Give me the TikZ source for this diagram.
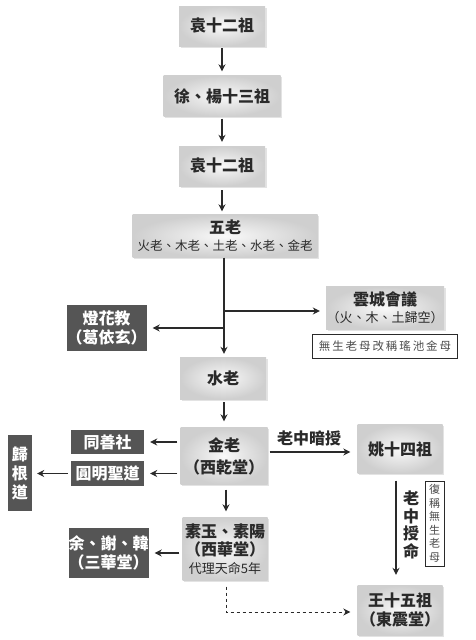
\documentclass[tikz,border=0pt]{standalone}
\usepackage{fontspec}
\setmainfont{Noto Sans CJK TC}
\usetikzlibrary{arrows.meta,shadows}
\definecolor{ink}{HTML}{2A2A2A}
\definecolor{darkbox}{HTML}{555555}
\tikzset{
  gbox/.style={inner color=gray!5, outer color=gray!38, draw=none, text=ink, align=center, inner sep=0pt,
     drop shadow={opacity=0.22, shadow xshift=1.5pt, shadow yshift=-1.5pt}},
  dbox/.style={fill=darkbox, draw=none, text=white, align=center, inner sep=0pt},
  nbox/.style={draw=ink, line width=0.8pt, fill=white, text=gray!60!black, align=center, inner sep=0pt},
  arr/.style={draw=ink, line width=1.2pt, -{Stealth[length=7pt,width=7pt]}},
  big/.style={font=\fontsize{16}{19}\selectfont\bfseries},
  lbl/.style={text=ink, font=\fontsize{16}{18}\selectfont\bfseries, inner sep=0pt}
}
\begin{document}
\begin{tikzpicture}[x=1pt,y=-1pt]
\useasboundingbox (0,0) rectangle (476,640);
% main column
\node[gbox, big, minimum width=86, minimum height=40] (a) at (222,26) {袁十二祖};
\node[gbox, big, minimum width=117, minimum height=41] (b) at (222,96) {徐、楊十三祖};
\node[gbox, big, minimum width=86, minimum height=40] (c) at (222,166) {袁十二祖};
\node[gbox, minimum width=185, minimum height=43, font=\fontsize{12.5}{16}\selectfont] (wulao) at (225,236)
   {{\fontsize{16}{18}\selectfont\bfseries 五老}\\[1pt]火老、木老、土老、水老、金老};
\node[gbox, big, minimum width=86, minimum height=42] (shui) at (223,378) {水老};
\node[gbox, big, minimum width=87, minimum height=57] (jin) at (224,456) {金老\\[3pt]（西乾堂）};
\node[gbox, minimum width=85, minimum height=63, font=\fontsize{13}{18}\selectfont] (suyu) at (225,549)
   {{\fontsize{16}{18}\selectfont\bfseries 素玉、素陽}\\{\fontsize{16}{18}\selectfont\bfseries （西華堂）}\\代理天命5年};
% right side
\node[gbox, minimum width=118, minimum height=43, font=\fontsize{13}{17}\selectfont] (yun) at (385,308)
   {{\fontsize{16}{18}\selectfont\bfseries 雲城會議}\\（火、木、土歸空）};
\node[nbox, minimum width=145, minimum height=24, font=\fontsize{11.5}{13}\selectfont] (note1) at (385,346) {無\,生\,老\,母\,改\,稱\,瑤\,池\,金\,母};
\node[gbox, big, minimum width=85, minimum height=49] (yao) at (400,449) {姚十四祖};
\node[gbox, big, minimum width=85, minimum height=50] (wang) at (400,610) {王十五祖\\（東震堂）};
\node[nbox, minimum width=19, minimum height=85, font=\fontsize{11}{13.5}\selectfont] (note2) at (434.5,523.5) {復\\稱\\無\\生\\老\\母};
% left side
\node[dbox, big, minimum width=73, minimum height=46] (deng) at (106.5,328) {燈花教\\（葛依玄）};
\node[dbox, big, minimum width=73, minimum height=24] (tong) at (107.5,442) {同善社};
\node[dbox, big, minimum width=73, minimum height=25] (yuan) at (107.5,473.5) {圓明聖道};
\node[dbox, big, minimum width=24, minimum height=76] (gui) at (20,473) {歸\\根\\道};
\node[dbox, big, minimum width=73, minimum height=50] (yu) at (108.5,553) {余、謝、韓\\（三華堂）};
% connectors main column
\draw[arr, shorten <=2pt, shorten >=4pt] (a) -- (b);
\draw[arr, shorten <=2pt, shorten >=4pt] (b) -- (c);
\draw[arr, shorten <=4pt, shorten >=3pt] (c) -- (c |- wulao.north);
\coordinate (jR) at (224,311);
\coordinate (jL) at (224,328);
\draw[arr, shorten >=3pt] (wulao.south -| jR) -- (shui.north -| jR);
\draw[arr, shorten >=6pt] (jR) -- (jR -| yun.west);
\draw[arr, shorten >=6pt] (jL) -- (jL -| deng.east);
\draw[arr, shorten <=3pt, shorten >=6pt] (shui.south -| jR) -- (jin.north -| jR);
\draw[arr, shorten <=5pt, shorten >=6pt] (jin.south -| 226,0) -- (suyu.north -| 226,0);
% left connectors
\draw[arr, shorten <=3pt, shorten >=6pt] (jin.west |- tong) -- (tong.east);
\draw[arr, shorten <=3pt, shorten >=6pt] (jin.west |- yuan) -- (yuan.east);
\draw[arr, shorten <=3pt, shorten >=5pt] (yuan.west) -- (yuan.west -| gui.east);
\draw[arr, shorten <=3pt, shorten >=6pt] (suyu.west |- yu) -- (yu.east);
% right connectors
\coordinate (jy) at (0,452);
\draw[arr, shorten <=2pt, shorten >=7pt] (jin.east |- jy) -- (yao.west |- jy);
\node[lbl] (l1) at (309,438) {老中暗授};
\draw[arr, shorten <=7pt, shorten >=10pt] ([xshift=-4pt]yao.south) -- ([xshift=-4pt]wang.north);
\node[lbl, align=center, font=\fontsize{16}{17.5}\selectfont\bfseries] (l2) at (411,525) {老\\中\\授\\命};
\draw[arr, dashed, line width=1pt, shorten <=6pt, shorten >=7pt] (suyu.south -| 226,0) |- (wang.west |- 0,612);
\end{tikzpicture}
\end{document}
